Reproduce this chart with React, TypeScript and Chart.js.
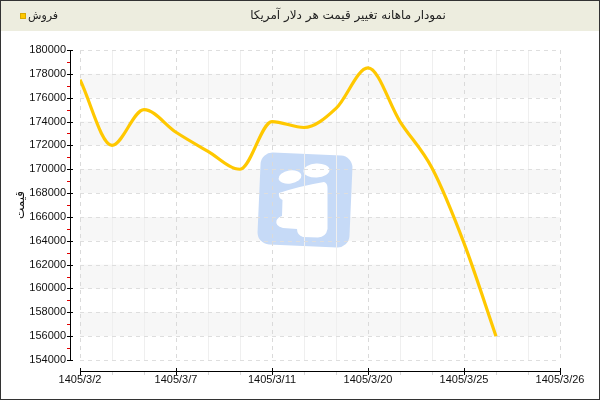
import React, { useEffect, useRef } from 'react';
import { Chart, registerables } from 'chart.js';

Chart.register(...registerables);

const chartTitle = 'نمودار ماهانه تغییر قیمت هر دلار آمریکا';
const seriesName = 'فروش';
const yTitle = 'قیمت';
const xLabels = ['1405/3/2', '1405/3/7', '1405/3/11', '1405/3/20', '1405/3/25', '1405/3/26'];
const xIndex = [0, 1, 2, 3, 4, 5, 6, 7, 8, 9, 10, 11, 12, 13];
const prices = [177500, 172000, 175000, 173100, 171500, 170000, 174000, 173500, 175100, 178500, 174000, 170100, 163800, 156000];
const yMin = 154000;
const yMax = 180000;
const yStep = 2000;
const xMax = 15;
const xLabelEvery = 3;

const LINE_COLOR = '#FFC800';

const decorPlugin = {
  id: 'decor',
  beforeDraw(chart: any) {
    const ctx = chart.ctx as CanvasRenderingContext2D;
    const { left, right, top, bottom } = chart.chartArea;
    const xs = chart.scales.x;
    const ys = chart.scales.y;
    ctx.save();
    ctx.fillStyle = '#ffffff';
    ctx.fillRect(0, 0, chart.width, chart.height);
    // header
    ctx.fillStyle = '#EDEDDF';
    ctx.fillRect(0, 0, chart.width, 31);

    // bands
    for (let v = yMin, k = 0; v < yMax; v += yStep, k++) {
      if (k % 2 === 1) {
        const y1 = ys.getPixelForValue(v + yStep);
        const y2 = ys.getPixelForValue(v);
        ctx.fillStyle = '#F7F7F7';
        ctx.fillRect(left, y1, right - left, y2 - y1);
      }
    }

    // watermark
    ctx.save();
    ctx.translate(305, 200);
    ctx.rotate((2.5 * Math.PI) / 180);
    ctx.fillStyle = '#C6DAF7';
    ctx.beginPath();
    (ctx as any).roundRect(-46, -46, 92, 92, 12);
    ctx.fill();
    ctx.restore();
    ctx.fillStyle = '#FFFFFF';
    ctx.beginPath();
    ctx.ellipse(290, 177, 11.5, 6.5, -0.15, 0, Math.PI * 2);
    ctx.fill();
    ctx.beginPath();
    ctx.ellipse(316.5, 170.5, 13, 7, -0.05, 0, Math.PI * 2);
    ctx.fill();
    ctx.beginPath();
    ctx.moveTo(279, 193);
    ctx.quadraticCurveTo(300, 186, 324, 182);
    ctx.quadraticCurveTo(327.5, 183, 327.5, 188);
    ctx.lineTo(327.5, 229);
    ctx.quadraticCurveTo(326, 237, 318, 237.5);
    ctx.lineTo(303, 237);
    ctx.quadraticCurveTo(297, 235, 297, 229);
    ctx.lineTo(283, 228);
    ctx.quadraticCurveTo(275, 226, 276.5, 220.5);
    ctx.quadraticCurveTo(278, 217, 282, 216);
    ctx.lineTo(282.5, 200);
    ctx.quadraticCurveTo(278, 198, 279, 193);
    ctx.closePath();
    ctx.fill();

    // vertical grid
    ctx.lineWidth = 1;
    for (let i = 0; i <= xMax; i++) {
      const px = Math.round(xs.getPixelForValue(i)) + 0.5;
      if (i % xLabelEvery === 0) {
        ctx.strokeStyle = '#DADADA';
        ctx.setLineDash([4, 4]);
      } else {
        ctx.strokeStyle = '#EFEFEF';
        ctx.setLineDash([]);
      }
      ctx.beginPath();
      ctx.moveTo(px, top);
      ctx.lineTo(px, bottom);
      ctx.stroke();
    }
    // horizontal grid
    ctx.strokeStyle = '#DEDEDE';
    ctx.setLineDash([4, 4]);
    for (let v = yMin; v <= yMax; v += yStep) {
      const py = Math.round(ys.getPixelForValue(v)) + 0.5;
      ctx.beginPath();
      ctx.moveTo(left, py);
      ctx.lineTo(right, py);
      ctx.stroke();
    }
    ctx.setLineDash([]);

    // y axis
    const ax = 70.5;
    ctx.strokeStyle = '#000000';
    ctx.beginPath();
    ctx.moveTo(ax, top);
    ctx.lineTo(ax, bottom + 1);
    ctx.stroke();
    for (let v = yMin; v <= yMax; v += yStep / 2) {
      const py = Math.round(ys.getPixelForValue(v)) + 0.5;
      const major = (v - yMin) % yStep === 0;
      ctx.strokeStyle = major ? '#000000' : '#E00000';
      ctx.beginPath();
      ctx.moveTo(67, py);
      ctx.lineTo(major ? 73 : 70, py);
      ctx.stroke();
    }
    // x axis
    const ay = 371.5;
    ctx.strokeStyle = '#000000';
    ctx.beginPath();
    ctx.moveTo(left, ay);
    ctx.lineTo(right + 1, ay);
    ctx.stroke();
    for (let i = 0; i <= xMax; i++) {
      const px = Math.round(xs.getPixelForValue(i)) + 0.5;
      const major = i % xLabelEvery === 0;
      ctx.strokeStyle = major ? '#000000' : '#D8D8D8';
      ctx.beginPath();
      ctx.moveTo(px, major ? 368 : 372);
      ctx.lineTo(px, 375);
      ctx.stroke();
    }

    // header texts
    ctx.fillStyle = '#222222';
    ctx.textBaseline = 'middle';
    ctx.textAlign = 'center';
    ctx.font = '12px "DejaVu Sans"';
    ctx.fillText(chartTitle, 348, 16);
    ctx.fillStyle = LINE_COLOR;
    ctx.fillRect(20, 13, 6, 6);
    ctx.strokeStyle = '#D9A800';
    ctx.strokeRect(20.5, 13.5, 5, 5);
    ctx.fillStyle = '#222222';
    ctx.textAlign = 'left';
    ctx.font = '11px "DejaVu Sans"';
    ctx.fillText(seriesName, 28, 16);
    ctx.restore();
  },
  afterDraw(chart: any) {
    const ctx = chart.ctx as CanvasRenderingContext2D;
    ctx.save();
    ctx.strokeStyle = '#333333';
    ctx.lineWidth = 1;
    ctx.strokeRect(0.5, 0.5, chart.width - 1, chart.height - 1);
    ctx.restore();
  },
};

export default function App() {
  const ref = useRef<HTMLCanvasElement | null>(null);
  useEffect(() => {
    document.body.style.margin = '0';
    const canvas = ref.current;
    if (!canvas) return;
    const chart = new Chart(canvas, {
      type: 'line',
      data: {
        datasets: [
          {
            label: seriesName,
            data: xIndex.map((x, i) => ({ x, y: prices[i] })),
            borderColor: LINE_COLOR,
            backgroundColor: LINE_COLOR,
            borderWidth: 3.2,
            pointRadius: 0,
            cubicInterpolationMode: 'monotone',
            fill: false,
          },
        ],
      },
      options: {
        animation: false,
        responsive: false,
        devicePixelRatio: 1,
        layout: { padding: { top: 50, right: 40, left: 0, bottom: 0 } },
        plugins: {
          legend: { display: false },
          title: { display: false },
          tooltip: { enabled: false },
        },
        scales: {
          x: {
            type: 'linear',
            min: 0,
            max: xMax,
            grid: { display: false, drawTicks: false },
            border: { display: false },
            afterFit: (s: any) => {
              s.height = 40;
            },
            ticks: {
              stepSize: xLabelEvery,
              autoSkip: false,
              maxRotation: 0,
              padding: 13,
              color: '#111111',
              font: { family: '"Liberation Sans"', size: 11 },
              callback: (v: any) => {
                const k = Number(v) / xLabelEvery;
                return Number.isInteger(k) ? xLabels[k] ?? '' : '';
              },
            },
          },
          y: {
            type: 'linear',
            min: yMin,
            max: yMax,
            grid: { display: false, drawTicks: false },
            border: { display: false },
            afterFit: (s: any) => {
              s.width = 80;
            },
            title: {
              display: true,
              text: yTitle,
              color: '#111111',
              font: { family: '"DejaVu Sans"', size: 12 },
              padding: { top: 14, bottom: 0 },
            },
            ticks: {
              stepSize: yStep,
              padding: 14,
              color: '#111111',
              font: { family: '"Liberation Sans"', size: 11 },
              callback: (v: any) => String(v),
            },
          },
        },
      },
      plugins: [decorPlugin],
    });
    return () => chart.destroy();
  }, []);
  return <canvas ref={ref} width={600} height={400} style={{ display: 'block', width: 600, height: 400 }} />;
}
